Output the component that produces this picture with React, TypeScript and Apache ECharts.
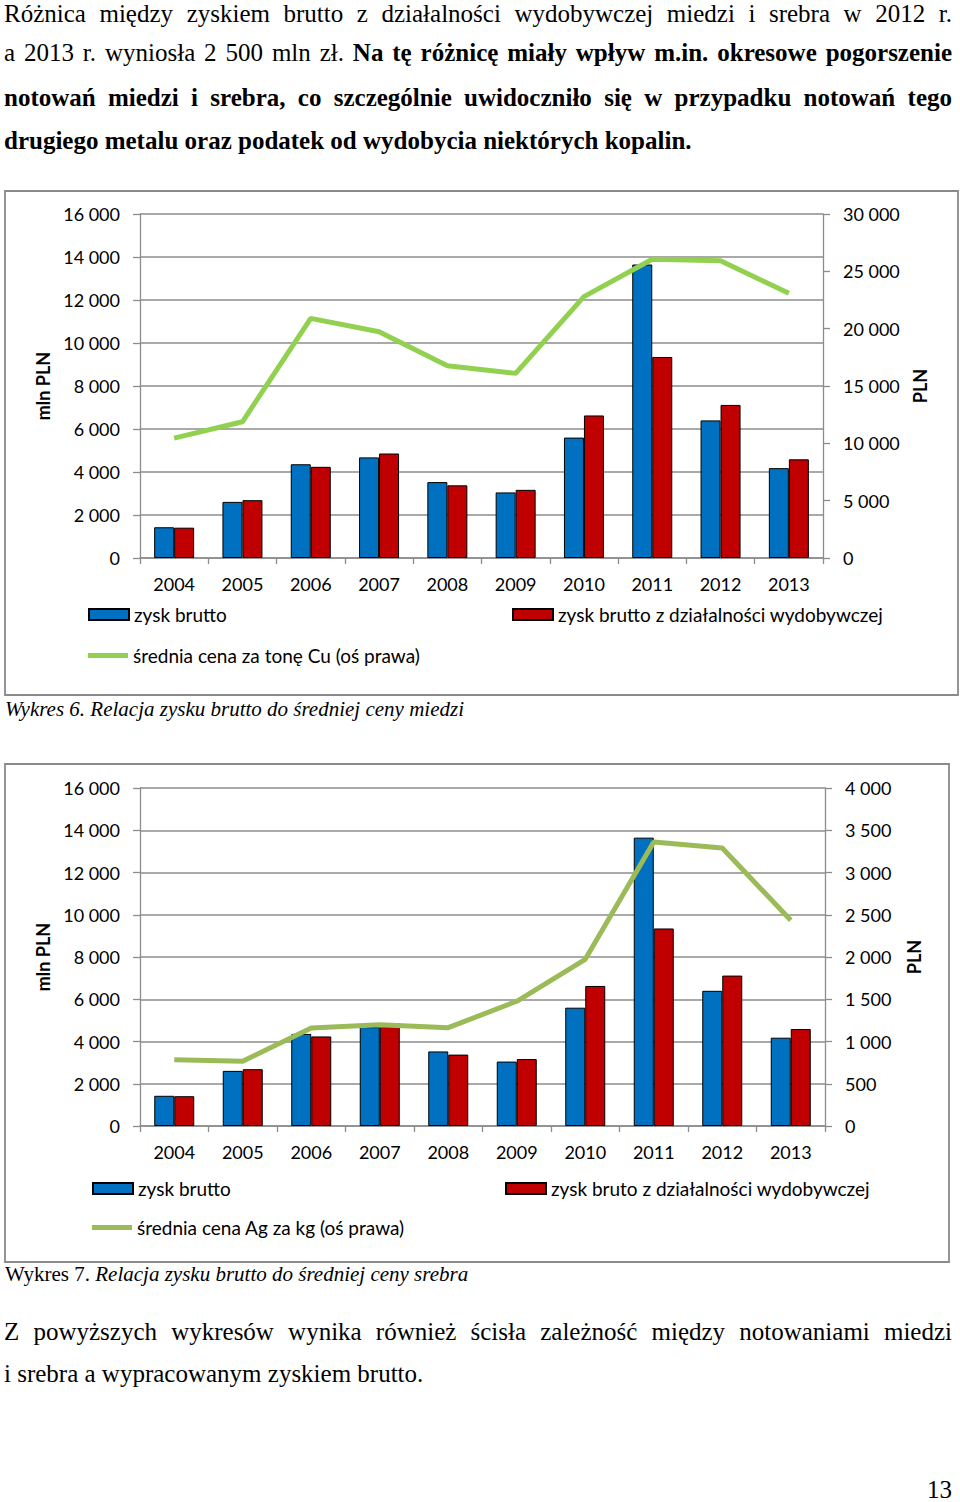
import React, { useEffect, useRef } from "react";
import * as echarts from "echarts";

const years = ["2004", "2005", "2006", "2007", "2008", "2009", "2010", "2011", "2012", "2013"];
const grossProfit = [1430, 2610, 4360, 4680, 3530, 3050, 5600, 13650, 6400, 4180];
const miningProfit = [1410, 2690, 4240, 4860, 3380, 3170, 6630, 9350, 7120, 4590];
const copperPrice = [10460, 11880, 20900, 19730, 16770, 16100, 22790, 26050, 25930, 23080];
const silverPrice = [785, 766, 1160, 1199, 1164, 1476, 1973, 3361, 3290, 2434];

const leftAxis = { min: 0, max: 16000, interval: 2000 };
const rightAxisCu = { min: 0, max: 30000, interval: 5000 };
const rightAxisAg = { min: 0, max: 4000, interval: 500 };

const nameGross = "zysk brutto";
const nameMining1 = "zysk brutto z działalności wydobywczej";
const nameMining2 = "zysk bruto z działalności wydobywczej";
const nameCu = "średnia cena za tonę Cu (oś prawa)";
const nameAg = "średnia cena Ag za kg (oś prawa)";

const BLUE = "#0070C0";
const RED = "#C00000";
const GREEN_CU = "#92D050";
const GREEN_AG = "#9BBB59";
const GRID = "#8c8c8c";
const FONT = "Lato";

const fmt = (v: number) => String(v).replace(/\B(?=(\d{3})+(?!\d))/g, " ");

function valueAxis(cfg: any, gridIndex: number, right: boolean, name: string, nameGap: number) {
  return {
    type: "value",
    gridIndex,
    position: right ? "right" : "left",
    min: cfg.min,
    max: cfg.max,
    interval: cfg.interval,
    name,
    nameLocation: "middle",
    nameRotate: 90,
    nameGap,
    nameTextStyle: { fontFamily: FONT, fontSize: 18, fontWeight: "bold", color: "#000" },
    axisLine: { show: true, lineStyle: { color: GRID, width: 1.3 } },
    axisTick: { show: true, inside: false, length: 7, lineStyle: { color: GRID, width: 1.3 } },
    axisLabel: {
      formatter: fmt,
      fontFamily: FONT,
      fontSize: 18,
      color: "#000",
      margin: 20,
    },
    splitLine: { show: !right, lineStyle: { color: GRID, width: 1.5 } },
  };
}

function catAxis(gridIndex: number) {
  return {
    type: "category",
    gridIndex,
    data: years,
    boundaryGap: true,
    axisLine: { show: true, lineStyle: { color: GRID, width: 1.5 } },
    axisTick: { show: true, alignWithLabel: false, length: 6, lineStyle: { color: GRID, width: 1.3 } },
    axisLabel: { fontFamily: FONT, fontSize: 18, color: "#000", margin: 17 },
  };
}

function legendAt(name: string, left: number, top: number, isLine: boolean) {
  return {
    data: [{ name, icon: "rect" }],
    left,
    top,
    orient: "horizontal",
    itemWidth: 40,
    itemHeight: isLine ? 5 : 11,
    itemGap: 0,
    selectedMode: false,
    textStyle: { fontFamily: FONT, fontSize: 19, color: "#000", padding: [0, 0, 0, 0] },
    padding: 0,
  };
}

const barStyle = (color: string) => ({ color, borderColor: "#000", borderWidth: 1 });

function Chart() {
  const ref = useRef<HTMLDivElement>(null);
  useEffect(() => {
    if (!ref.current) return;
    const chart = echarts.init(ref.current, undefined, { renderer: "svg" });
    chart.setOption({
      animation: false,
      backgroundColor: "transparent",
      grid: [
        { left: 140, top: 214, width: 683, height: 344, containLabel: false },
        { left: 140, top: 788, width: 685, height: 338, containLabel: false },
      ],
      xAxis: [catAxis(0), catAxis(1)],
      yAxis: [
        valueAxis(leftAxis, 0, false, "mln PLN", 69),
        valueAxis(rightAxisCu, 0, true, "PLN", 88),
        valueAxis(leftAxis, 1, false, "mln PLN", 62),
        valueAxis(rightAxisAg, 1, true, "PLN", 80),
      ],
      legend: [
        legendAt(nameGross, 88, 605, false),
        legendAt(nameMining1, 512, 605, false),
        legendAt(nameCu, 88, 646, true),
        legendAt(nameGross, 92, 1179, false),
        legendAt(nameMining2, 505, 1179, false),
        legendAt(nameAg, 92, 1218, true),
      ],
      graphic: [
        { type: "rect", shape: { x: 5, y: 191, width: 953, height: 504 }, style: { fill: "none", stroke: "#8a8a8a", lineWidth: 1.8 }, silent: true },
        { type: "rect", shape: { x: 5, y: 764, width: 944, height: 498 }, style: { fill: "none", stroke: "#8a8a8a", lineWidth: 1.8 }, silent: true },
      ],
      series: [
        { type: "bar", name: nameGross, xAxisIndex: 0, yAxisIndex: 0, data: grossProfit, barWidth: 20, barGap: "0%", itemStyle: barStyle(BLUE) },
        { type: "bar", name: nameMining1, xAxisIndex: 0, yAxisIndex: 0, data: miningProfit, barWidth: 20, barGap: "0%", itemStyle: barStyle(RED) },
        { type: "line", name: nameCu, xAxisIndex: 0, yAxisIndex: 1, data: copperPrice, symbol: "none", lineStyle: { color: GREEN_CU, width: 5 }, itemStyle: { color: GREEN_CU }, z: 5 },
        { type: "bar", name: nameGross, xAxisIndex: 1, yAxisIndex: 2, data: grossProfit, barWidth: 20, barGap: "0%", itemStyle: barStyle(BLUE) },
        { type: "bar", name: nameMining2, xAxisIndex: 1, yAxisIndex: 2, data: miningProfit, barWidth: 20, barGap: "0%", itemStyle: barStyle(RED) },
        { type: "line", name: nameAg, xAxisIndex: 1, yAxisIndex: 3, data: silverPrice, symbol: "none", lineStyle: { color: GREEN_AG, width: 5 }, itemStyle: { color: GREEN_AG }, z: 5 },
      ],
    });
    return () => chart.dispose();
  }, []);
  return <div ref={ref} style={{ position: "absolute", left: 0, top: 0, width: 960, height: 1502 }} />;
}

const serif = "'Liberation Serif', 'Times New Roman', serif";

function Line(props: { top: number; children: any; justify?: boolean; size?: number; lh?: number; left?: number; width?: number; italic?: boolean; align?: string }) {
  const size = props.size ?? 25;
  const lh = props.lh ?? size * 1.2;
  return (
    <div
      style={{
        position: "absolute",
        left: props.left ?? 4,
        top: props.top,
        width: props.width ?? 948,
        fontFamily: serif,
        fontSize: size,
        lineHeight: `${lh}px`,
        whiteSpace: "nowrap",
        textAlign: (props.align as any) ?? (props.justify ? "justify" : "left"),
        textAlignLast: (props.align as any) ?? (props.justify ? "justify" : "left"),
        fontStyle: props.italic ? "italic" : "normal",
        color: "#000",
      }}
    >
      {props.children}
    </div>
  );
}

export default function App() {
  return (
    <div style={{ position: "absolute", left: 0, top: 0, width: 960, height: 1502, background: "#fff", overflow: "hidden" }}>
      <Line top={4} lh={20} justify>
        Różnica między zyskiem brutto z działalności wydobywczej miedzi i srebra w 2012 r.
      </Line>
      <Line top={38.3} justify>
        a 2013 r. wyniosła 2 500 mln zł. <b>Na tę różnicę miały wpływ m.in. okresowe pogorszenie</b>
      </Line>
      <Line top={82.5} justify>
        <b>notowań miedzi i srebra, co szczególnie uwidoczniło się w przypadku notowań tego</b>
      </Line>
      <Line top={125.5}>
        <b>drugiego metalu oraz podatek od wydobycia niektórych kopalin.</b>
      </Line>
      <Chart />
      <Line top={697} size={21} left={5} italic>
        Wykres 6. Relacja zysku brutto do średniej ceny miedzi
      </Line>
      <Line top={1262} size={21} left={5}>
        Wykres 7. <i>Relacja zysku brutto do średniej ceny srebra</i>
      </Line>
      <Line top={1316.5} justify>
        Z powyższych wykresów wynika również ścisła zależność między notowaniami miedzi
      </Line>
      <Line top={1359.2}>i srebra a wypracowanym zyskiem brutto.</Line>
      <Line top={1474.5} align="right" left={880} width={72}>
        13
      </Line>
    </div>
  );
}
